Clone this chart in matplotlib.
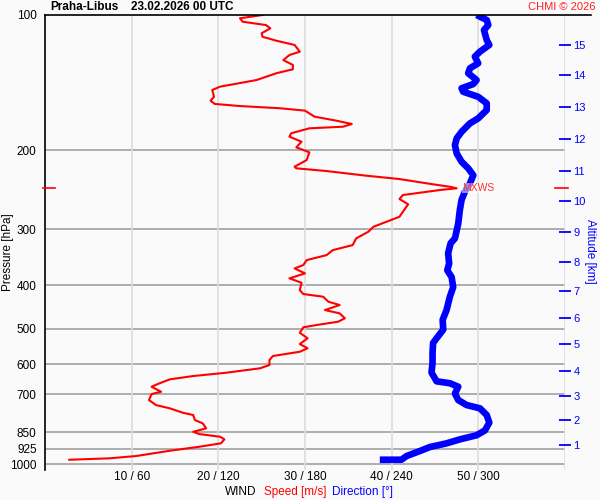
import matplotlib.pyplot as plt
from matplotlib.ticker import NullLocator, FixedLocator, FixedFormatter

plt.rcParams['font.family'] = ['Liberation Sans', 'DejaVu Sans']

# wind speed profile (pressure hPa, speed m/s)
speed_p = [100, 101.7, 103.5, 105.3, 107.1, 109.8, 111.8, 114.1, 116.6, 120.7,
           122.8, 126.0, 129.2, 132.1, 134.8, 139.6, 144.4, 146.9, 152.1, 155.2,
           157.8, 159.5, 161.3, 163.3, 168.4, 171.9, 174.9, 177.3, 178.8, 183.4,
           186.6, 191.5, 197.1, 202.2, 210.3, 217.7, 219.5, 222.6, 228.0, 231.9,
           238.3, 241.2, 243.2, 245.3, 251.7, 256.9, 264.0, 274.2, 281.4, 288.7,
           296.2, 303.9, 314.4, 325.4, 333.9, 342.5, 351.4, 360.5, 366.7, 376.2,
           385.9, 394.7, 409.8, 418.2, 424.0, 435.0, 442.5, 454.0, 461.8, 473.7,
           482.1, 490.3, 496.1, 510.1, 524.8, 540.4, 552.4, 562.2, 574.7, 586.6,
           601.8, 612.1, 626.1, 636.8, 647.7, 661.2, 672.7, 690.2, 698.4, 720.3,
           739.0, 751.5, 768.6, 777.8, 798.0, 811.7, 832.7, 847.4, 857.5, 869.4,
           881.0, 899.3, 915.1, 934.1, 959.8, 971.2, 978.2]
speed_ms = [25.1, 22.5, 22.8, 25.5, 26.0, 25.0, 25.1, 26.7, 28.8, 29.4,
            28.2, 27.5, 28.6, 28.6, 26.7, 24.4, 20.2, 19.3, 19.5, 19.1,
            19.6, 22.5, 27.1, 30.0, 31.1, 33.6, 35.4, 34.4, 30.5, 28.4,
            28.2, 29.6, 29.0, 30.5, 30.2, 28.8, 29.0, 32.5, 37.1, 40.9,
            44.8, 46.7, 47.5, 45.6, 41.3, 40.9, 41.9, 41.3, 40.9, 39.4,
            37.9, 37.3, 35.9, 35.5, 33.2, 32.5, 30.2, 29.8, 28.8, 30.0,
            28.2, 29.6, 29.4, 29.8, 32.1, 32.7, 34.0, 32.3, 34.0, 34.6,
            33.8, 31.3, 29.8, 29.4, 30.3, 29.4, 30.3, 29.4, 26.3, 25.9,
            25.9, 24.8, 20.9, 17.1, 14.4, 13.2, 12.3, 13.4, 12.3, 12.0,
            12.8, 14.4, 15.9, 17.1, 17.3, 18.2, 18.6, 17.1, 17.8, 20.2,
            20.7, 20.3, 17.8, 14.4, 10.5, 7.4, 2.8]

# wind direction profile (pressure hPa, direction deg)
dir_p = [100, 102.6, 105.3, 108.0, 113.7, 116.6, 120.7, 123.8, 128.1, 131.4,
         134.8, 139.6, 142.5, 145.6, 148.2, 152.1, 157.3, 162.8, 169.9, 174.3,
         182.0, 188.3, 194.9, 203.3, 212.2, 219.5, 227.4, 237.2, 247.4, 258.0,
         271.9, 291.1, 314.4, 322.4, 339.3, 357.5, 370.2, 383.3, 403.8, 424.0,
         454.0, 477.3, 502.0, 524.6, 537.4, 565.3, 594.7, 625.6, 654.3, 660.8,
         672.7, 696.7, 720.3, 739.0, 751.5, 777.8, 808.6, 841.6, 862.8, 881.0,
         899.3, 916.4, 935.5, 959.8, 978.0, 978.2]
dir_deg = [298.8, 305.8, 306.9, 303.9, 305.8, 307.6, 301.1, 297.6, 299.9, 294.2,
           293.0, 298.8, 296.5, 288.4, 289.5, 299.9, 305.8, 305.8, 299.9, 294.2,
           288.4, 285.0, 283.8, 285.0, 288.4, 293.0, 296.5, 294.2, 290.7, 288.4,
           287.2, 286.1, 283.8, 280.8, 279.1, 279.8, 278.5, 281.5, 282.6, 280.3,
           278.0, 275.3, 275.7, 271.1, 268.7, 268.3, 268.3, 267.6, 271.1, 280.3,
           286.1, 283.8, 286.1, 291.9, 301.1, 305.8, 307.6, 304.6, 298.8, 287.3,
           278.0, 266.5, 259.5, 250.3, 246.8, 231.8]

max_wind_p = 243.2
max_wind_ms = 47.5

p_levels = [200, 300, 400, 500, 600, 700, 850, 925, 1000]
p_labels = [100, 200, 300, 400, 500, 600, 700, 850, 925, 1000]
speed_ticks = [10, 20, 30, 40, 50]
speed_tick_labels = ['10 / 60', '20 / 120', '30 / 180', '40 / 240', '50 / 300']
alt_km = list(range(1, 16))
alt_p = [907, 798, 706, 621, 540, 472, 411, 355, 305, 260, 222, 189, 160, 136, 116.6]

bg = '#fafafa'
fig = plt.figure(figsize=(6, 5), dpi=100, facecolor=bg)
ax = fig.add_axes([45 / 600, 0.06, 520 / 600, 0.91], facecolor=bg)

ax.set_yscale('log')
ax.set_ylim(1031, 100)
ax.set_xlim(0, 60)

for p in p_levels:
    ax.axhline(p, color='#a8a8a8', lw=1.3, zorder=1)
for x in [10, 20, 30, 40, 50, 60]:
    ax.axvline(x, color='#dcdcdc', lw=1.2, zorder=1)

ax.plot([d / 6 for d in dir_deg], dir_p, color='#0000ff', lw=4.8,
        solid_capstyle='butt', zorder=3)
ax.plot(speed_ms, speed_p, color='#ff0000', lw=1.5, zorder=4)

# max wind marker
ax.text(max_wind_ms + 0.6, max_wind_p, 'MXWS', color='#ff3030', fontsize=7.5,
        va='center', ha='left', zorder=5,
        bbox=dict(facecolor='white', alpha=0.55, edgecolor='none', pad=0))
ax.plot([-0.25, 1.2], [max_wind_p, max_wind_p], color='red', lw=1.2,
        clip_on=False, zorder=5)
ax.plot([58.8, 60.3], [max_wind_p, max_wind_p], color='red', lw=1.2,
        clip_on=False, zorder=5)

for s in ['right', 'bottom', 'top']:
    ax.spines[s].set_visible(False)
ax.spines['left'].set_linewidth(1.2)
ax.axhline(100, xmin=0, xmax=1.05, color='black', lw=1.2, clip_on=False, zorder=6)

ax.yaxis.set_major_locator(FixedLocator(p_labels))
ax.yaxis.set_major_formatter(FixedFormatter([str(p) for p in p_labels]))
ax.yaxis.set_minor_locator(NullLocator())
ax.tick_params(axis='y', length=0, pad=6, labelsize=8.5)

ax.set_xticks(speed_ticks)
ax.set_xticklabels(speed_tick_labels)
ax.tick_params(axis='x', length=0, pad=1, labelsize=8.5)

ax2 = ax.twinx()
ax2.set_yscale('log')
ax2.set_ylim(1031, 100)
ax2.yaxis.set_major_locator(FixedLocator(alt_p))
ax2.yaxis.set_major_formatter(FixedFormatter([str(a) for a in alt_km]))
ax2.yaxis.set_minor_locator(NullLocator())
ax2.tick_params(axis='y', direction='inout', length=8, width=1.3, color='blue',
                labelcolor='blue', labelsize=8, pad=2)
for s in ax2.spines.values():
    s.set_visible(False)

fig.text(50 / 600, 1 - 7 / 500, 'Praha-Libus', fontsize=8.5, fontweight='bold',
         va='center', ha='left')
fig.text(131 / 600, 1 - 7 / 500, '23.02.2026 00 UTC', fontsize=8.5,
         fontweight='bold', va='center', ha='left')
fig.text(596 / 600, 1 - 7 / 500, 'CHMI © 2026', fontsize=8, color='#ff2020',
         va='center', ha='right')
fig.text(8 / 600, 1 - 252 / 500, 'Pressure [hPa]', fontsize=8.5, rotation=90,
         va='center', ha='center')
fig.text(590 / 600, 1 - 251 / 500, 'Altitude [km]', fontsize=8.5, rotation=270,
         va='center', ha='center', color='blue')
fig.text(225 / 600, 1 - 492 / 500, 'WIND', fontsize=8.5, va='center', ha='left')
fig.text(264 / 600, 1 - 492 / 500, 'Speed [m/s]', fontsize=8.5, va='center',
         ha='left', color='red')
fig.text(332 / 600, 1 - 492 / 500, 'Direction [°]', fontsize=8.5, va='center',
         ha='left', color='blue')

fig.savefig('out.png', dpi=100, facecolor=bg)
